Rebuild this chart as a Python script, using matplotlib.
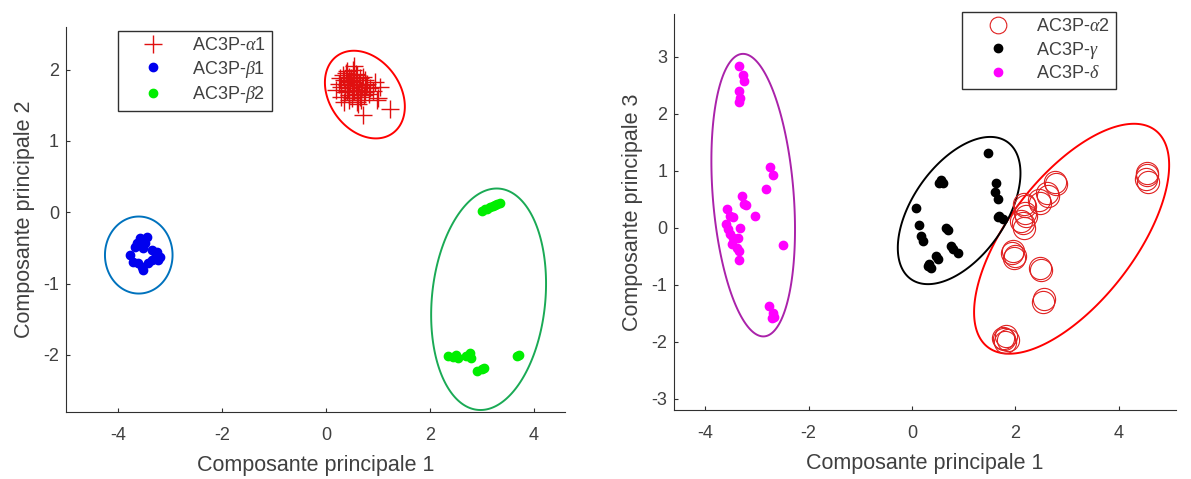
import matplotlib
matplotlib.use("Agg")
import matplotlib.pyplot as plt
import numpy as np

# ---- left panel: PC1 vs PC2 ----
a1_x = [0.25, 0.30, 0.35, 0.40, 0.45, 0.50, 0.55, 0.60, 0.65, 0.70, 0.75, 0.80,
        0.30, 0.38, 0.45, 0.52, 0.60, 0.68, 0.75, 0.85, 0.35, 0.42, 0.50, 0.58,
        0.65, 0.72, 0.40, 0.48, 0.55, 0.62, 0.90, 1.00, 1.23, 0.71, 0.98, 0.20,
        0.55, 0.45, 0.62, 0.33, 0.43, 0.53, 0.63, 0.73, 0.37, 0.47, 0.57, 0.67,
        0.77, 0.28, 0.52, 0.82, 0.95, 1.05, 0.60, 0.40]
a1_y = [1.80, 1.75, 1.85, 1.70, 1.90, 1.78, 1.82, 1.72, 1.88, 1.76, 1.68, 1.80,
        1.62, 1.95, 1.65, 2.00, 1.92, 1.70, 1.85, 1.74, 1.55, 1.82, 1.60, 1.78,
        1.62, 1.90, 1.98, 1.88, 1.70, 1.52, 1.70, 1.60, 1.45, 1.36, 1.57, 1.72,
        2.05, 1.58, 1.66, 1.92, 1.74, 1.86, 1.80, 1.64, 1.68, 1.84, 1.94, 1.58,
        1.78, 1.88, 1.70, 1.66, 1.82, 1.75, 1.55, 1.78]

b1_x = [-3.58, -3.44, -3.48, -3.63, -3.67, -3.52, -3.35, -3.25, -3.19, -3.29,
        -3.77, -3.71, -3.62, -3.54, -3.52, -3.42, -3.35, -3.23]
b1_y = [-0.36, -0.35, -0.43, -0.43, -0.49, -0.50, -0.53, -0.56, -0.63, -0.64,
        -0.60, -0.70, -0.71, -0.77, -0.81, -0.71, -0.67, -0.67]

b2_x = [3.00, 3.07, 3.15, 3.22, 3.30, 3.35, 3.10, 3.25,
        2.35, 2.45, 2.55, 2.70, 2.78, 2.80, 2.50,
        2.90, 3.00, 3.05, 3.68, 3.72]
b2_y = [0.02, 0.05, 0.07, 0.09, 0.12, 0.13, 0.04, 0.10,
        -2.02, -2.03, -2.04, -2.02, -1.98, -2.05, -2.00,
        -2.22, -2.20, -2.18, -2.02, -2.00]

# ---- right panel: PC1 vs PC3 ----
a2_x = [4.55, 4.52, 4.57, 4.54, 2.76, 2.78, 2.61, 2.63, 2.45, 2.47, 2.16, 2.18,
        2.18, 2.20, 2.12, 2.14, 2.16, 1.96, 1.94, 1.98, 2.00, 2.47, 2.49, 2.55,
        2.53, 1.83, 1.79, 1.81, 1.77, 1.85]
a2_y = [0.92, 0.86, 0.80, 0.95, 0.80, 0.76, 0.60, 0.56, 0.48, 0.44, 0.42, 0.38,
        0.25, 0.20, 0.12, 0.08, 0.00, -0.41, -0.45, -0.53, -0.49, -0.71, -0.75,
        -1.26, -1.30, -1.91, -1.96, -2.00, -1.93, -1.98]

g_x = [1.48, 0.56, 0.60, 0.53, 0.08, 1.63, 1.60, 1.67, 1.69, 1.77, 1.67, 0.14,
       0.18, 0.21, 0.66, 0.70, 0.76, 0.89, 0.80, 0.47, 0.51, 0.33, 0.37, 0.31]
g_y = [1.31, 0.83, 0.78, 0.78, 0.35, 0.78, 0.62, 0.51, 0.21, 0.16, 0.18, 0.04,
       -0.14, -0.23, 0.00, -0.05, -0.32, -0.44, -0.37, -0.50, -0.55, -0.64,
       -0.71, -0.67]

d_x = [-3.35, -3.27, -3.25, -3.35, -3.33, -3.35, -2.74, -2.68, -2.82, -3.29,
       -3.25, -3.21, -3.04, -3.58, -3.52, -3.46, -3.60, -3.56, -3.33, -3.52,
       -3.46, -3.37, -3.48, -3.39, -3.35, -3.35, -2.49, -2.76, -2.68, -2.67,
       -2.70]
d_y = [2.83, 2.67, 2.58, 2.39, 2.28, 2.21, 1.06, 0.92, 0.67, 0.55,
       0.42, 0.39, 0.21, 0.32, 0.21, 0.18, 0.07, -0.02, 0.00, -0.11,
       -0.19, -0.18, -0.28, -0.35, -0.41, -0.57, -0.30, -1.38, -1.49, -1.56,
       -1.59]

# ellipses: centre, conjugate half-axis vectors (data units)
ell_a1 = [(0.75, 1.65), (-0.533, 0.543), (0.554, 0.288)]
ell_b1 = [(-3.60, -0.60), (0.65, 0.0), (0.0, 0.54)]
ell_b2 = [(3.13, -1.22), (0.210, 1.551), (1.085, -0.077)]
ell_a2 = [(3.09, -0.195), (1.625, 1.899), (0.959, -0.680)]
ell_g = [(0.914, 0.30), (0.933, 1.203), (0.733, -0.470)]
ell_d = [(-3.07, 0.57), (-0.214, 2.478), (0.780, 0.056)]

TXT = "#404040"
plt.rcParams.update({
    "font.family": "Liberation Sans",
    "mathtext.fontset": "custom",
    "mathtext.it": "Liberation Serif:italic",
    "axes.unicode_minus": False,
    "axes.edgecolor": "#303030",
    "xtick.color": "#303030",
    "ytick.color": "#303030",
    "xtick.labelcolor": TXT,
    "ytick.labelcolor": TXT,
    "xtick.direction": "in",
    "ytick.direction": "in",
    "xtick.major.size": 3,
    "ytick.major.size": 3,
})


def draw_ellipse(ax, spec, color):
    (cx, cy), (ux, uy), (vx, vy) = spec
    t = np.linspace(0, 2 * np.pi, 300, endpoint=False)
    ax.fill(cx + ux * np.cos(t) + vx * np.sin(t),
            cy + uy * np.cos(t) + vy * np.sin(t),
            fill=False, edgecolor=color, linewidth=1.4)


def style(ax, xlabel, ylabel):
    for s in ("top", "right"):
        ax.spines[s].set_visible(False)
    ax.tick_params(axis="x", labelsize=13, pad=11)
    ax.tick_params(axis="y", labelsize=13, pad=5)
    ax.set_xlabel(xlabel, fontsize=15.5, color=TXT, labelpad=8)
    ax.set_ylabel(ylabel, fontsize=15.5, color=TXT, labelpad=6)


def legend(ax, anchor):
    leg = ax.legend(loc="upper left", bbox_to_anchor=anchor, fontsize=13,
                    fancybox=False, edgecolor="#303030", framealpha=1,
                    labelcolor=TXT, borderpad=0.35, handlelength=3.2,
                    handletextpad=0.55, labelspacing=0.25, borderaxespad=0)
    leg.get_frame().set_linewidth(1.0)
    return leg


fig = plt.figure(figsize=(11.91, 4.79), dpi=100)
ax1 = fig.add_axes([0.0554, 0.140, 0.419, 0.804])
ax2 = fig.add_axes([0.566, 0.144, 0.421, 0.827])

ax1.plot(a1_x, a1_y, "+", color="#e01010", markersize=13, markeredgewidth=1.0,
         label=r"AC3P-$\alpha$1")
ax1.plot(b1_x, b1_y, ".", color="#0000ee", markersize=12, label=r"AC3P-$\beta$1")
ax1.plot(b2_x, b2_y, ".", color="#00ee00", markersize=12, label=r"AC3P-$\beta$2")
draw_ellipse(ax1, ell_a1, "#ff0000")
draw_ellipse(ax1, ell_b1, "#0072BD")
draw_ellipse(ax1, ell_b2, "#1aaa55")
ax1.set_xlim(-5, 4.6)
ax1.set_ylim(-2.8, 2.6)
ax1.set_xticks([-4, -2, 0, 2, 4])
ax1.set_yticks([-2, -1, 0, 1, 2])
style(ax1, "Composante principale 1", "Composante principale 2")
legend(ax1, (0.104, 0.99))

ax2.plot(a2_x, a2_y, "o", markerfacecolor="none", markeredgecolor="#e02020",
         markersize=16, markeredgewidth=0.8, label=r"AC3P-$\alpha$2")
ax2.plot(g_x, g_y, ".", color="black", markersize=12, label=r"AC3P-$\gamma$")
ax2.plot(d_x, d_y, ".", color="#ff00ff", markersize=12, label=r"AC3P-$\delta$")
draw_ellipse(ax2, ell_a2, "#ff0000")
draw_ellipse(ax2, ell_g, "black")
draw_ellipse(ax2, ell_d, "#aa22aa")
ax2.set_xlim(-4.6, 5.1)
ax2.set_ylim(-3.2, 3.75)
ax2.set_xticks([-4, -2, 0, 2, 4])
ax2.set_yticks([-3, -2, -1, 0, 1, 2, 3])
style(ax2, "Composante principale 1", "Composante principale 3")
leg2 = legend(ax2, (0.575, 1.005))
leg2.legend_handles[0].set_markersize(12)

fig.savefig("out.png", dpi=100, facecolor="white")
